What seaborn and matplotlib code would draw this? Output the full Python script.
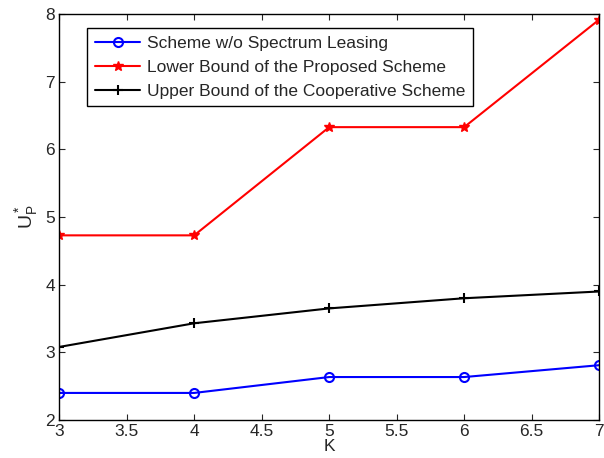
import matplotlib
matplotlib.use("Agg")
import matplotlib.pyplot as plt
import seaborn as sns

# data
K = [3, 4, 5, 6, 7]
no_leasing = [2.40, 2.40, 2.635, 2.635, 2.81]
lower_proposed = [4.73, 4.73, 6.33, 6.33, 7.92]
upper_coop = [3.08, 3.43, 3.65, 3.80, 3.90]
labels = ["Scheme w/o Spectrum Leasing",
          "Lower Bound of the Proposed Scheme",
          "Upper Bound of the Cooperative Scheme"]

sns.set_style("ticks")
plt.rcParams["font.family"] = ["Liberation Sans", "DejaVu Sans"]
plt.rcParams["xtick.direction"] = "in"
plt.rcParams["ytick.direction"] = "in"

fig = plt.figure(figsize=(6.04, 4.58), dpi=100)
ax = fig.add_axes([0.098, 0.083, 0.894, 0.886])

# one call per series (seaborn won't mix filled and line-art markers)
sns.lineplot(x=K, y=no_leasing, color="#0000ff", marker="o", markersize=6.5,
             markerfacecolor="none", markeredgecolor="#0000ff",
             markeredgewidth=1.5, linewidth=1.5, label=labels[0], ax=ax)
sns.lineplot(x=K, y=lower_proposed, color="#ff0000", marker="*", markersize=7,
             markerfacecolor="#ff0000", markeredgecolor="#ff0000",
             markeredgewidth=1.0, linewidth=1.5, label=labels[1], ax=ax)
sns.lineplot(x=K, y=upper_coop, color="#000000", marker="+", markersize=7,
             markeredgecolor="#000000", markeredgewidth=1.5,
             linewidth=1.5, label=labels[2], ax=ax)

ax.set_xlim(3, 7)
ax.set_ylim(2, 8)
ax.set_xticks([3, 3.5, 4, 4.5, 5, 5.5, 6, 6.5, 7])
ax.set_xticklabels(["3", "3.5", "4", "4.5", "5", "5.5", "6", "6.5", "7"])
ax.set_yticks([2, 3, 4, 5, 6, 7, 8])
ax.tick_params(labelsize=12.5, length=4, width=0.8, top=True, right=True,
               labeltop=False, labelright=False, pad=3)
for s in ax.spines.values():
    s.set_visible(True)
    s.set_linewidth(1.0)
    s.set_color("black")
ax.set_xlabel("K", fontsize=12.5, labelpad=0)
ax.set_ylabel(r"$\mathregular{U_P^*}$", fontsize=14, labelpad=4)

leg = ax.legend(loc="upper left", bbox_to_anchor=(0.052, 0.966), fontsize=12.5,
                frameon=True, fancybox=False, edgecolor="black",
                handlelength=2.6, borderpad=0.45, labelspacing=0.5,
                handletextpad=0.4, borderaxespad=0)
leg.get_frame().set_linewidth(1.0)
leg.get_frame().set_alpha(1)

fig.savefig("out.png", dpi=100)
